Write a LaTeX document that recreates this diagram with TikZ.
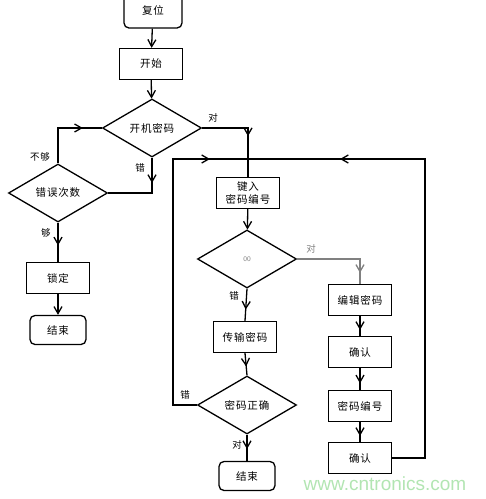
\documentclass[tikz,border=0pt]{standalone}
\usepackage{fontspec}
\newfontfamily\cjk[LetterSpace=8]{Noto Sans CJK SC}
\newfontfamily\wmfont{Liberation Sans}
\usetikzlibrary{shapes.geometric,arrows.meta,decorations.markings}
\tikzset{
  box/.style={draw,line width=1.3pt,minimum width=63pt,minimum height=31pt,inner sep=1pt,align=center},
  term/.style={box,rounded corners=5pt,minimum width=56pt,minimum height=29pt},
  dec/.style={draw,line width=1.3pt,diamond,aspect=1.7,minimum width=99pt,minimum height=58pt,inner sep=0pt},
  flow/.style={line width=1.3pt,-{Straight Barb[length=7pt,width=8pt]}},
  midarr/.style={line width=1.3pt,postaction={decorate},decoration={markings,
    mark=at position #1 with {\arrow{Straight Barb[length=7pt,width=8pt]}}}},
  lbl/.style={font=\cjk\fontsize{9.5}{10}\selectfont}
}
\begin{document}
\begin{tikzpicture}[x=1pt,y=-1pt,font=\cjk\fontsize{10.5}{12.5}\selectfont]
\useasboundingbox (0,0) rectangle (486,499);
\clip (0,0) rectangle (486,499);
% boxes
\node[term,minimum width=58pt,minimum height=36pt] (reset) at (153,10) {复位};
\foreach \n/\x/\y/\t in {start/151/64/开始,lock/58/278/锁定,input/248/193/键入\\密码编号,
  send/245/337/传输密码,edit/360/300/编辑密码,conf1/360/352/确认,num/360/406/密码编号,conf2/360/458/确认}
  \node[box] (\n) at (\x,\y) {\t};
\node[term] (endA) at (58,330) {结束};
\node[term] (endB) at (247,476) {结束};
% decisions
\node[dec] (pwd) at (152,128) {开机密码};
\node[dec] (cnt) at (58,193) {错误次数};
\node[dec] (chk) at (247,259) {\color{gray}\sffamily\scriptsize 00};
\node[dec] (ok) at (247,405) {密码正确};
\coordinate (lp) at (173,159);
\coordinate (rp) at (425,159);
\coordinate (join) at (246,159);
% connectors
\draw[flow] (reset) -- (start);
\draw[flow] (start) -- (pwd);
\draw[midarr=0.57] (pwd.east) -| (input.north);
\draw[midarr=0.32] (pwd.south) |- (cnt.east);
\draw[midarr=0.76] (cnt.north) |- (pwd.west);
\draw[midarr=0.58] (cnt.south) -- (lock.north);
\draw[flow] (lock) -- (endA);
\draw[flow] (input) -- (chk);
\draw[midarr=0.875,gray] (chk.east) -| (edit.north);
\draw[midarr=0.65] (chk.south) -- (send.north);
\draw[midarr=0.6] (send.south) -- (ok.north);
\draw[midarr=0.55] (ok.south) -- (endB.north);
\foreach \a/\b in {edit/conf1,conf1/num,num/conf2} \draw[midarr=0.7] (\a.south) -- (\b.north);
\draw[midarr=0.895] (ok.west) -| (lp) -- (join);
\draw[midarr=0.816] (conf2.east) -| (rp) -- (join);
% labels
\node[lbl] at (213,118) {对};
\node[lbl] at (140,168) {错};
\node[lbl] at (40,157) {不够};
\node[lbl] at (46,233) {够};
\node[lbl,gray] at (311,249) {对};
\node[lbl] at (234,296) {错};
\node[lbl] at (185,395) {错};
\node[lbl] at (237,445) {对};
\node[font=\wmfont\fontsize{19}{20}\selectfont,green!50!gray!40] at (385,484) {www.cntronics.com};
\end{tikzpicture}
\end{document}
